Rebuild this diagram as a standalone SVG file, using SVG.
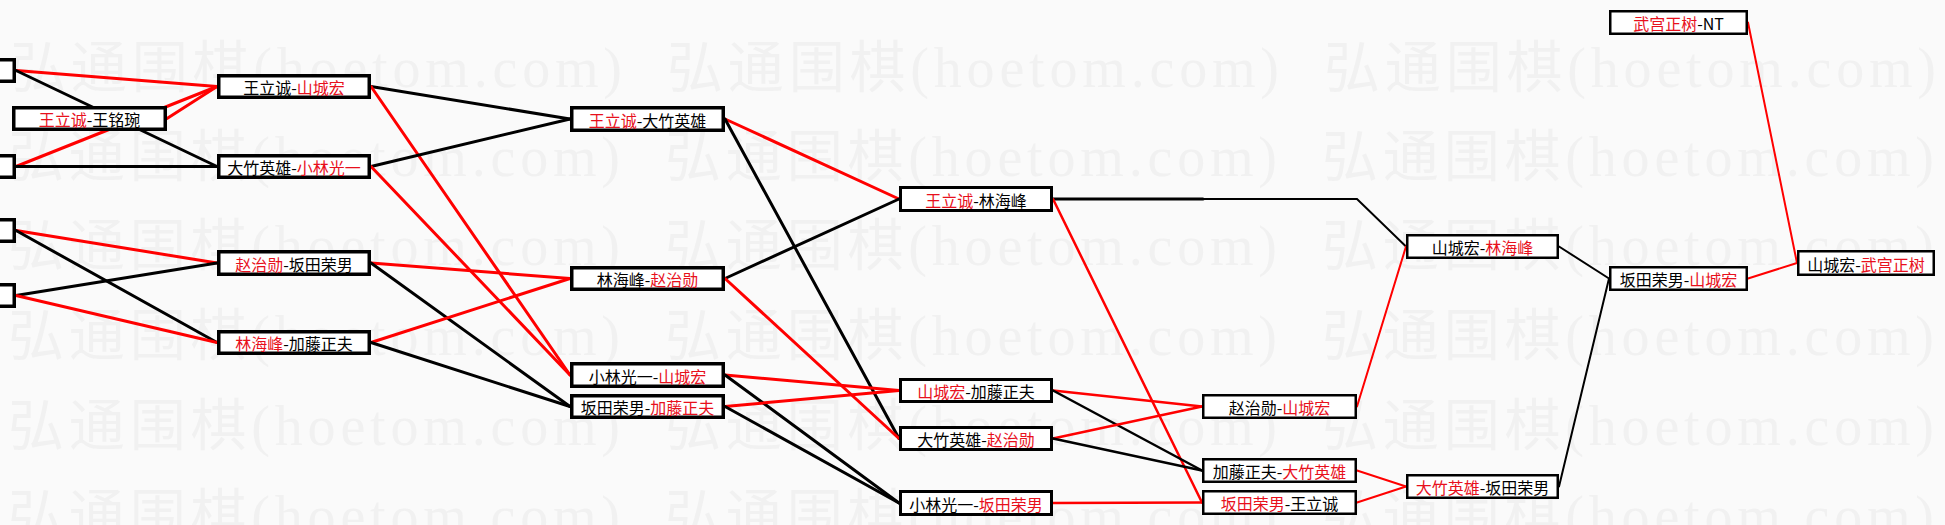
<svg xmlns="http://www.w3.org/2000/svg" width="1945" height="525" viewBox="0 0 1945 525">
<style>
.bg{fill:#fafafa}
.wm{font-family:"Liberation Serif","Noto Sans CJK SC",serif;font-size:56px;fill:#f1f1f1}
.bx{fill:#fff;stroke:#000}
.b1{stroke-width:3.5}
.b2{stroke-width:3}
.b3{stroke-width:2.5}
.t{font-family:"Noto Sans CJK SC",sans-serif;font-size:16px;text-anchor:middle;fill:#000}
.r{fill:#e8101c}
#connectors line,#connectors polyline{fill:none;stroke-linecap:round}
.lr{stroke:#f00}
.lb{stroke:#000}
.w1{stroke-width:3}
.w2{stroke-width:2.5}
.w3{stroke-width:2}
</style>
<rect class="bg" x="0" y="0" width="1945" height="525"/>
<g id="watermark">
<text class="wm" x="10" y="87" textLength="612" lengthAdjust="spacing">弘通围棋(hoetom.com)</text>
<text class="wm" x="667" y="87" textLength="612" lengthAdjust="spacing">弘通围棋(hoetom.com)</text>
<text class="wm" x="1324" y="87" textLength="612" lengthAdjust="spacing">弘通围棋(hoetom.com)</text>
<text class="wm" x="8" y="176" textLength="612" lengthAdjust="spacing">弘通围棋(hoetom.com)</text>
<text class="wm" x="665" y="176" textLength="612" lengthAdjust="spacing">弘通围棋(hoetom.com)</text>
<text class="wm" x="1322" y="176" textLength="612" lengthAdjust="spacing">弘通围棋(hoetom.com)</text>
<text class="wm" x="8" y="265" textLength="612" lengthAdjust="spacing">弘通围棋(hoetom.com)</text>
<text class="wm" x="665" y="265" textLength="612" lengthAdjust="spacing">弘通围棋(hoetom.com)</text>
<text class="wm" x="1322" y="265" textLength="612" lengthAdjust="spacing">弘通围棋(hoetom.com)</text>
<text class="wm" x="8" y="355" textLength="612" lengthAdjust="spacing">弘通围棋(hoetom.com)</text>
<text class="wm" x="665" y="355" textLength="612" lengthAdjust="spacing">弘通围棋(hoetom.com)</text>
<text class="wm" x="1322" y="355" textLength="612" lengthAdjust="spacing">弘通围棋(hoetom.com)</text>
<text class="wm" x="8" y="445" textLength="612" lengthAdjust="spacing">弘通围棋(hoetom.com)</text>
<text class="wm" x="665" y="445" textLength="612" lengthAdjust="spacing">弘通围棋(hoetom.com)</text>
<text class="wm" x="1322" y="445" textLength="612" lengthAdjust="spacing">弘通围棋(hoetom.com)</text>
<text class="wm" x="8" y="535" textLength="612" lengthAdjust="spacing">弘通围棋(hoetom.com)</text>
<text class="wm" x="665" y="535" textLength="612" lengthAdjust="spacing">弘通围棋(hoetom.com)</text>
<text class="wm" x="1322" y="535" textLength="612" lengthAdjust="spacing">弘通围棋(hoetom.com)</text>
</g>
<g id="connectors">
<line class="lr w1" x1="16" y1="70.5" x2="217" y2="86.5"/>
<line class="lb w1" x1="16" y1="70.5" x2="217" y2="166.5"/>
<line class="lr w1" x1="16" y1="166.5" x2="217" y2="86.5"/>
<line class="lb w1" x1="16" y1="166.5" x2="217" y2="166.5"/>
<line class="lr w1" x1="167" y1="118.5" x2="217" y2="86.5"/>
<line class="lr w1" x1="16" y1="230.5" x2="217" y2="263"/>
<line class="lb w1" x1="16" y1="230.5" x2="217" y2="342.5"/>
<line class="lb w1" x1="16" y1="295.5" x2="217" y2="263"/>
<line class="lr w1" x1="16" y1="295.5" x2="217" y2="342.5"/>
<line class="lb w1" x1="371" y1="86.5" x2="570" y2="119"/>
<line class="lr w1" x1="371" y1="86.5" x2="570" y2="375"/>
<line class="lb w1" x1="371" y1="166.5" x2="570" y2="119"/>
<line class="lr w1" x1="371" y1="166.5" x2="570" y2="375"/>
<line class="lr w1" x1="371" y1="263" x2="570" y2="278.5"/>
<line class="lb w1" x1="371" y1="263" x2="570" y2="406.5"/>
<line class="lr w1" x1="371" y1="342.5" x2="570" y2="278.5"/>
<line class="lb w1" x1="371" y1="342.5" x2="570" y2="406.5"/>
<line class="lr w1" x1="725" y1="119" x2="899" y2="199"/>
<line class="lb w1" x1="725" y1="119" x2="899" y2="438.5"/>
<line class="lb w1" x1="725" y1="278.5" x2="899" y2="199"/>
<line class="lr w1" x1="725" y1="278.5" x2="899" y2="438.5"/>
<line class="lr w1" x1="725" y1="375" x2="899" y2="390.5"/>
<line class="lb w1" x1="725" y1="375" x2="899" y2="503"/>
<line class="lr w1" x1="725" y1="406.5" x2="899" y2="390.5"/>
<line class="lb w1" x1="725" y1="406.5" x2="899" y2="503"/>
<line class="lb w1" x1="1053" y1="199" x2="1203" y2="199"/>
<polyline class="lb w3" points="1203,199 1357,199 1406,246.5"/>
<line class="lr w2" x1="1053" y1="199" x2="1202" y2="502.5"/>
<line class="lr w2" x1="1053" y1="390.5" x2="1202" y2="406.5"/>
<line class="lb w2" x1="1053" y1="390.5" x2="1202" y2="470.5"/>
<line class="lr w2" x1="1053" y1="438.5" x2="1202" y2="406.5"/>
<line class="lb w2" x1="1053" y1="438.5" x2="1202" y2="470.5"/>
<line class="lr w2" x1="1053" y1="503" x2="1202" y2="502.5"/>
<line class="lr w3" x1="1357" y1="406.5" x2="1406" y2="246.5"/>
<line class="lr w3" x1="1357" y1="470.5" x2="1406" y2="486.5"/>
<line class="lr w3" x1="1357" y1="502.5" x2="1406" y2="486.5"/>
<line class="lb w3" x1="1559" y1="246.5" x2="1609" y2="278.5"/>
<line class="lb w3" x1="1559" y1="486.5" x2="1609" y2="278.5"/>
<line class="lr w3" x1="1748" y1="278.5" x2="1797" y2="263"/>
<line class="lr w3" x1="1748" y1="22.5" x2="1797" y2="263"/>
</g>
<g id="n0a"><rect class="bx b1" x="-150" y="59.75" width="164.25" height="21.5"/></g>
<g id="n0b"><rect class="bx b1" x="-150" y="155.75" width="164.25" height="21.5"/></g>
<g id="n0c"><rect class="bx b1" x="-150" y="219.75" width="164.25" height="21.5"/></g>
<g id="n0d"><rect class="bx b1" x="-150" y="284.75" width="164.25" height="21.5"/></g>
<g id="n-wangliwan"><rect class="bx b1" x="13.75" y="107.75" width="151.5" height="21.5"/><text class="t" x="89.5" y="126"><tspan class="r">王立诚</tspan>-王铭琬</text></g>
<g id="n1a"><rect class="bx b1" x="218.75" y="75.75" width="150.5" height="21.5"/><text class="t" x="294" y="94"><tspan>王立诚-</tspan><tspan class="r">山城宏</tspan></text></g>
<g id="n1b"><rect class="bx b1" x="218.75" y="155.75" width="150.5" height="21.5"/><text class="t" x="294" y="174"><tspan>大竹英雄-</tspan><tspan class="r">小林光一</tspan></text></g>
<g id="n1c"><rect class="bx b1" x="218.75" y="251.75" width="150.5" height="22.5"/><text class="t" x="294" y="270.5"><tspan class="r">赵治勋</tspan><tspan>-坂田荣男</tspan></text></g>
<g id="n1d"><rect class="bx b1" x="218.75" y="331.75" width="150.5" height="21.5"/><text class="t" x="294" y="350"><tspan class="r">林海峰</tspan><tspan>-加藤正夫</tspan></text></g>
<g id="n2a"><rect class="bx b1" x="571.75" y="107.75" width="151.5" height="22.5"/><text class="t" x="647.5" y="126.5"><tspan class="r">王立诚</tspan><tspan>-大竹英雄</tspan></text></g>
<g id="n2b"><rect class="bx b1" x="571.75" y="267.75" width="151.5" height="21.5"/><text class="t" x="647.5" y="286"><tspan>林海峰-</tspan><tspan class="r">赵治勋</tspan></text></g>
<g id="n2c"><rect class="bx b1" x="571.75" y="363.75" width="151.5" height="22.5"/><text class="t" x="647.5" y="382.5"><tspan>小林光一-</tspan><tspan class="r">山城宏</tspan></text></g>
<g id="n2d"><rect class="bx b1" x="571.75" y="395.75" width="151.5" height="21.5"/><text class="t" x="647.5" y="414"><tspan>坂田荣男-</tspan><tspan class="r">加藤正夫</tspan></text></g>
<g id="n3a"><rect class="bx b2" x="900.5" y="187.5" width="151" height="23"/><text class="t" x="976" y="206.5"><tspan class="r">王立诚</tspan><tspan>-林海峰</tspan></text></g>
<g id="n3b"><rect class="bx b2" x="900.5" y="379.5" width="151" height="22"/><text class="t" x="976" y="398"><tspan class="r">山城宏</tspan><tspan>-加藤正夫</tspan></text></g>
<g id="n3c"><rect class="bx b2" x="900.5" y="427.5" width="151" height="22"/><text class="t" x="976" y="446"><tspan>大竹英雄-</tspan><tspan class="r">赵治勋</tspan></text></g>
<g id="n3d"><rect class="bx b2" x="900.5" y="491.5" width="151" height="23"/><text class="t" x="976" y="510.5"><tspan>小林光一-</tspan><tspan class="r">坂田荣男</tspan></text></g>
<g id="n4a"><rect class="bx b3" x="1203.25" y="395.25" width="152.5" height="22.5"/><text class="t" x="1279.5" y="414"><tspan>赵治勋-</tspan><tspan class="r">山城宏</tspan></text></g>
<g id="n4b"><rect class="bx b3" x="1203.25" y="459.25" width="152.5" height="22.5"/><text class="t" x="1279.5" y="478"><tspan>加藤正夫-</tspan><tspan class="r">大竹英雄</tspan></text></g>
<g id="n4c"><rect class="bx b3" x="1203.25" y="491.25" width="152.5" height="22.5"/><text class="t" x="1279.5" y="510"><tspan class="r">坂田荣男</tspan><tspan>-王立诚</tspan></text></g>
<g id="n5a"><rect class="bx b3" x="1407.25" y="235.25" width="150.5" height="22.5"/><text class="t" x="1482.5" y="254"><tspan>山城宏-</tspan><tspan class="r">林海峰</tspan></text></g>
<g id="n5b"><rect class="bx b3" x="1407.25" y="475.25" width="150.5" height="22.5"/><text class="t" x="1482.5" y="494"><tspan class="r">大竹英雄</tspan><tspan>-坂田荣男</tspan></text></g>
<g id="n6a"><rect class="bx b3" x="1610.25" y="267.25" width="136.5" height="22.5"/><text class="t" x="1678.5" y="286"><tspan>坂田荣男-</tspan><tspan class="r">山城宏</tspan></text></g>
<g id="n6t"><rect class="bx b3" x="1610.25" y="11.25" width="136.5" height="22.5"/><text class="t" x="1678.5" y="30"><tspan class="r">武宫正树</tspan><tspan>-NT</tspan></text></g>
<g id="n7"><rect class="bx b3" x="1798.25" y="251.25" width="135.5" height="23.5"/><text class="t" x="1866" y="270.5"><tspan>山城宏-</tspan><tspan class="r">武宫正树</tspan></text></g>
</svg>
